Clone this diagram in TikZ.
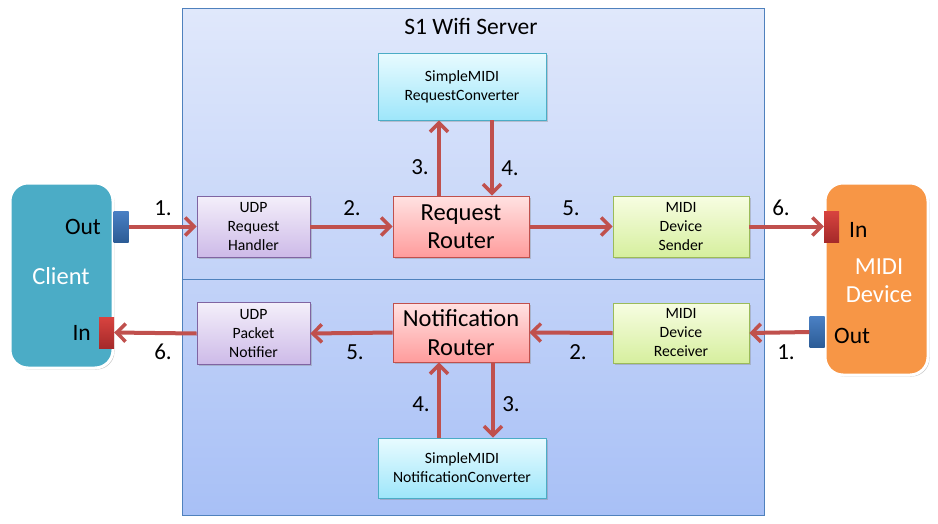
\documentclass[tikz,border=0pt]{standalone}
\usepackage{fontspec}
\setmainfont{Carlito}
\usetikzlibrary{arrows.meta,shadows,calc}
\definecolor{arrowred}{HTML}{C0504D}
\definecolor{srvborder}{HTML}{4F81BD}
\definecolor{srvtop}{HTML}{E0E8FB}
\definecolor{srvbot}{HTML}{A8C0F6}
\definecolor{cyantop}{HTML}{E8FBFF}
\definecolor{cyanbot}{HTML}{9EE6FA}
\definecolor{cyanbd}{HTML}{4BACC6}
\definecolor{pinktop}{HTML}{FFE2E2}
\definecolor{pinkbot}{HTML}{FF9C9C}
\definecolor{pinkbd}{HTML}{C0504D}
\definecolor{purtop}{HTML}{F4EFFA}
\definecolor{purbot}{HTML}{CDBAE8}
\definecolor{purbd}{HTML}{8064A2}
\definecolor{grntop}{HTML}{F7FDE2}
\definecolor{grnbot}{HTML}{D6EF9E}
\definecolor{grnbd}{HTML}{9BBB59}
\definecolor{clientfill}{HTML}{4BACC6}
\definecolor{midifill}{HTML}{F79646}
\definecolor{portbluetop}{HTML}{4A80C4}
\definecolor{portbluebot}{HTML}{2C5C96}
\definecolor{portredtop}{HTML}{D8433F}
\definecolor{portredbot}{HTML}{A52A2A}
\tikzset{
  base/.style={draw, line width=0.8pt, inner sep=0pt, align=center,
    drop shadow={shadow xshift=1.5pt, shadow yshift=-1.5pt, opacity=0.35}},
  cyanbox/.style={base, draw=cyanbd, top color=cyantop, bottom color=cyanbot,
    font=\fontsize{15.7}{19}\selectfont, minimum width=168pt},
  pinkbox/.style={base, draw=pinkbd, top color=pinktop, bottom color=pinkbot,
    font=\fontsize{24.5}{28.5}\selectfont, minimum width=136pt},
  purbox/.style={base, draw=purbd, top color=purtop, bottom color=purbot,
    font=\fontsize{15.7}{19}\selectfont, minimum width=113pt},
  grnbox/.style={base, draw=grnbd, top color=grntop, bottom color=grnbot,
    font=\fontsize{15.7}{19}\selectfont, minimum width=136pt},
  device/.style={draw=white, line width=3pt, rounded corners=18pt, inner sep=0pt,
    drop shadow={shadow xshift=1.5pt, shadow yshift=-1.5pt, opacity=0.4, fill=black!60}},
  devlbl/.style={text=white, font=\fontsize{24.5}{28}\selectfont, align=center, inner sep=0pt},
  portblue/.style={draw=none, top color=portbluetop, bottom color=portbluebot,
    minimum width=15pt, minimum height=31pt, inner sep=0pt},
  portred/.style={draw=none, top color=portredtop, bottom color=portredbot,
    minimum width=15pt, minimum height=31pt, inner sep=0pt},
  flow/.style={draw=arrowred, line width=4pt,
    -{Straight Barb[length=9pt, width=18pt, line width=3.5pt]}},
  steplbl/.style={font=\fontsize{23}{27}\selectfont, inner sep=0pt},
  portlbl/.style={font=\fontsize{23.5}{27}\selectfont, inner sep=0pt},
}
\begin{document}
\begin{tikzpicture}[x=1pt,y=-1pt]
\useasboundingbox (0,0) rectangle (938,523);
\fill[white] (0,0) rectangle (938,523);
% server
\node[draw=srvborder, line width=0.8pt, top color=srvtop, bottom color=srvbot,
  minimum width=582pt, minimum height=507pt, inner sep=0pt] (srv) at (473,261.5) {};
\draw[srvborder, line width=0.8pt] (srv.west |- 0,279) coordinate (dl) -- (srv.east |- 0,279) coordinate (dr);
\node[font=\fontsize{23.5}{27}\selectfont, inner sep=0pt] (title) at (471,26) {S1 Wifi Server};
% devices
\node[device, fill=clientfill, minimum width=103pt, minimum height=185pt] (client) at (61.5,275.5) {};
\node[devlbl] (clientlbl) at (61,276) {Client};
\node[device, fill=midifill, minimum width=103pt, minimum height=192pt] (midi) at (876.5,279) {};
\node[devlbl] (midilbl) at (879,281) {MIDI\\Device};
% ports
\node[portblue] (cout) at (121,226.5) {};
\node[portred] (cin) at (106.5,332.5) {};
\node[portred] (min) at (831.5,226.5) {};
\node[portblue] (mout) at (817,332) {};
\node[portlbl, anchor=east] (coutlbl) at (101,227) {Out};
\node[portlbl, anchor=east] (cinlbl) at (91,333) {In};
\node[portlbl, anchor=west] (minlbl) at (849,230) {In};
\node[portlbl, anchor=west] (moutlbl) at (834,336) {Out};
% upper boxes
\node[cyanbox, minimum height=67pt] (rc) at (462,86.5) {SimpleMIDI\\RequestConverter};
\node[pinkbox, minimum height=61pt] (rr) at (461,226.5) {Request\\Router};
\node[purbox, minimum height=61pt] (udprh) at (253.5,226.5) {UDP\\Request\\Handler};
\node[grnbox, minimum height=61pt] (mds) at (681,226.5) {MIDI\\Device\\Sender};
% lower boxes
\node[purbox, minimum height=62pt] (udppn) at (253.5,333.5) {UDP\\Packet\\Notifier};
\node[pinkbox, minimum height=59pt] (nr) at (461,332.5) {Notification\\Router};
\node[grnbox, minimum height=60pt] (mdr) at (681,333) {MIDI\\Device\\Receiver};
\node[cyanbox, minimum height=60pt] (nc) at (462,468) {SimpleMIDI\\NotificationConverter};
% upper flows
\draw[flow] (cout.east) -- (udprh.west);
\draw[flow] (udprh.east) -- (rr.west);
\draw[flow] ($(rr.north)+(-22,0)$) -- ($(rc.south)+(-23,0)$);
\draw[flow] ($(rc.south)+(30,0)$) -- ($(rr.north)+(31,0)$);
\draw[flow] (rr.east) -- (mds.west);
\draw[flow] (mds.east) -- (min.west);
% lower flows
\draw[flow] (mout.west) -- (mdr.east);
\draw[flow] (mdr.west) -- (nr.east);
\draw[flow] ($(nr.south)+(32,0)$) -- ($(nc.north)+(31,0)$);
\draw[flow] ($(nc.north)+(-23,0)$) -- ($(nr.south)+(-22,0)$);
\draw[flow] (nr.west) -- (udppn.east);
\draw[flow] (udppn.west) -- (cin.east);
% step labels
\node[steplbl] (u1) at (163,208) {1.};
\node[steplbl] (u2) at (352,208) {2.};
\node[steplbl] (u3) at (420,167) {3.};
\node[steplbl] (u4) at (510,168) {4.};
\node[steplbl] (u5) at (571,208) {5.};
\node[steplbl] (u6) at (781,208) {6.};
\node[steplbl] (l1) at (786,352) {1.};
\node[steplbl] (l2) at (578,352) {2.};
\node[steplbl] (l3) at (511,404) {3.};
\node[steplbl] (l4) at (421,404) {4.};
\node[steplbl] (l5) at (355,352) {5.};
\node[steplbl] (l6) at (163,352) {6.};
\end{tikzpicture}
\end{document}
